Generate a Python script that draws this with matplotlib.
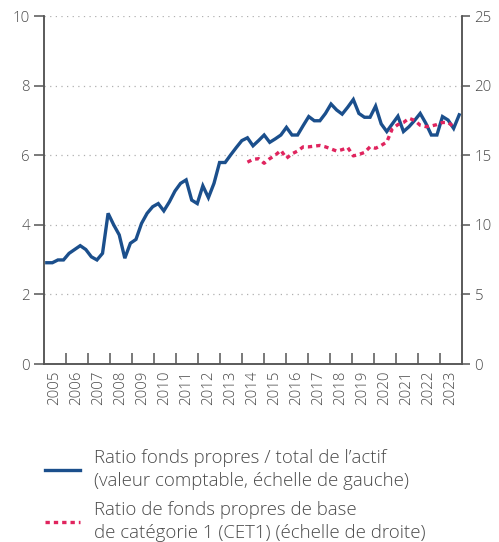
import numpy as np
import matplotlib
matplotlib.use("Agg")
import matplotlib.pyplot as plt
from matplotlib.lines import Line2D

plt.rcParams["font.family"] = ["Open Sans", "DejaVu Sans"]
plt.rcParams["font.weight"] = "light"

# --- data: quarterly, 2005 Q1 -> 2023 Q3 ---
START_YEAR = 2005
END_YEAR = 2024

# equity / total assets (book value), left scale, %
equity_to_assets = [
    2.91, 2.91, 2.99, 2.99,   # 2005
    3.18, 3.29, 3.40, 3.29,   # 2006
    3.08, 2.99, 3.18, 4.33,   # 2007
    4.00, 3.71, 3.04, 3.47,   # 2008
    3.58, 4.04, 4.33, 4.52,   # 2009
    4.61, 4.40, 4.66, 4.97,   # 2010
    5.19, 5.29, 4.71, 4.61,   # 2011
    5.12, 4.78, 5.19, 5.79,   # 2012
    5.79, 6.01, 6.22, 6.42,   # 2013
    6.50, 6.27, 6.42, 6.58,   # 2014
    6.37, 6.47, 6.58, 6.80,   # 2015
    6.58, 6.58, 6.85, 7.11,   # 2016
    6.99, 6.99, 7.20, 7.47,   # 2017
    7.30, 7.18, 7.38, 7.60,   # 2018
    7.20, 7.09, 7.09, 7.41,   # 2019
    6.90, 6.68, 6.90, 7.12,   # 2020
    6.68, 6.82, 7.00, 7.20,   # 2021
    6.92, 6.58, 6.58, 7.11,   # 2022
    7.01, 6.77, 7.16,         # 2023
]

# CET1 ratio, right scale, %, from 2014 Q1
CET1_START = 36
cet1_ratio = [
    14.50, 14.70, 14.75, 14.42,   # 2014
    14.75, 15.00, 15.35, 14.78,   # 2015
    15.10, 15.30, 15.60, 15.60,   # 2016
    15.65, 15.70, 15.60, 15.45,   # 2017
    15.30, 15.40, 15.55, 14.95,   # 2018
    15.05, 15.20, 15.60, 15.50,   # 2019
    15.70, 15.95, 16.90, 17.20,   # 2020
    17.35, 17.65, 17.50, 17.15,   # 2021
    17.05, 17.10, 17.20, 17.35,   # 2022
    17.35, 17.05,                 # 2023
]

YEARS = list(range(START_YEAR, END_YEAR))

LABEL_BLUE = "Ratio fonds propres / total de l’actif\n(valeur comptable, échelle de gauche)"
LABEL_RED = "Ratio de fonds propres de base\nde catégorie 1 (CET1) (échelle de droite)"

BLUE = "#1b4f8c"
RED = "#e0245e"
GREY = "#555555"
TXT = "#4a4a4a"

# points spread evenly across the year span (category-like axis)
n = len(equity_to_assets)
step = (END_YEAR - START_YEAR) / n
x_all = START_YEAR + (np.arange(n) + 0.5) * step
x_cet1 = x_all[CET1_START:CET1_START + len(cet1_ratio)]

fig = plt.figure(figsize=(4.99, 5.42), dpi=100)
ax = fig.add_axes([44 / 499, 1 - 364 / 542, (462 - 44) / 499, (364 - 16) / 542])
ax2 = ax.twinx()

ax.plot(x_all, equity_to_assets, color=BLUE, lw=2.4, solid_joinstyle="miter", zorder=3)
ax2.plot(x_cet1, cet1_ratio, color=RED, lw=2.4, linestyle=(0, (1.3, 1.2)), zorder=2)

ax.set_xlim(START_YEAR, END_YEAR)
ax.set_ylim(0, 10)
ax2.set_ylim(0, 25)
ax.set_yticks([0, 2, 4, 6, 8, 10])
ax2.set_yticks([0, 5, 10, 15, 20, 25])

ax.set_xticks(YEARS[1:])
ax.set_xticks([y + 0.5 for y in YEARS], minor=True)
ax.set_xticklabels([])
ax.set_xticklabels([str(y) for y in YEARS], minor=True, rotation=90)
ax.tick_params(axis="x", which="major", direction="in", length=8, width=1.1, color=GREY)
ax.tick_params(axis="x", which="minor", length=0, pad=5, labelsize=10.8, labelcolor=TXT)
ax.tick_params(axis="y", direction="out", length=7, width=1.1, color=GREY,
               labelsize=10.8, labelcolor=TXT, pad=3)
ax2.tick_params(axis="y", direction="out", length=6, width=1.1, color=GREY,
                labelsize=10.8, labelcolor=TXT, pad=3)

for a in (ax, ax2):
    a.spines["top"].set_visible(False)
    for s in ("left", "right", "bottom"):
        a.spines[s].set_color(GREY)
        a.spines[s].set_linewidth(1.1)

for yv in [2, 4, 6, 8, 10]:
    ax.axhline(yv, color="#b0b0b0", lw=0.9, linestyle=(0, (1, 3.5)), zorder=0)

handles = [
    Line2D([], [], color=BLUE, lw=2.4),
    Line2D([], [], color=RED, lw=2.4, linestyle=(0, (1.3, 1.2))),
]
leg = fig.legend(handles, [LABEL_BLUE, LABEL_RED], loc="upper left",
                 bbox_to_anchor=(38 / 499, 1 - 442 / 542), frameon=False,
                 prop={"size": 13.4, "weight": "light"},
                 handlelength=1.85, handletextpad=0.75,
                 labelspacing=0.55, borderaxespad=0)
for t in leg.get_texts():
    t.set_color(TXT)
    t.set_linespacing(1.36)

fig.savefig("out.png", dpi=100)
